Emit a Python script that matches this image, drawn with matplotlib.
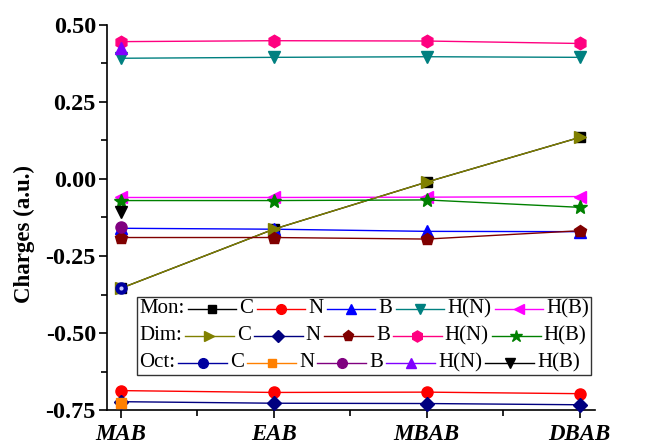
import matplotlib
matplotlib.use("Agg")
import matplotlib.pyplot as plt
from matplotlib.lines import Line2D
from matplotlib.offsetbox import TextArea, DrawingArea, HPacker, VPacker, AnchoredOffsetbox

plt.rcParams["font.family"] = "Liberation Serif"

# ---- data (charges in a.u.) ----
molecules = ["MAB", "EAB", "MBAB", "DBAB"]
atoms = ["C", "N", "B", "H(N)", "H(B)"]

mon_C = [-0.355, -0.163, -0.010, 0.135]
mon_N = [-0.687, -0.693, -0.692, -0.697]
mon_B = [-0.160, -0.163, -0.170, -0.171]
mon_HN = [0.392, 0.395, 0.397, 0.395]
mon_HB = [-0.060, -0.060, -0.059, -0.057]

dim_C = [-0.355, -0.163, -0.010, 0.135]
dim_N = [-0.723, -0.728, -0.729, -0.733]
dim_B = [-0.190, -0.190, -0.195, -0.168]
dim_HN = [0.446, 0.449, 0.448, 0.440]
dim_HB = [-0.070, -0.070, -0.068, -0.092]

# octamer only for MAB
oct_C = [-0.355]
oct_N = [-0.728]
oct_B = [-0.157]
oct_HN = [0.424]
oct_HB = [-0.108]

series = [
    ("Mon:", [mon_C, mon_N, mon_B, mon_HN, mon_HB],
     ["black", "red", "blue", "#008080", "#FF00FF"],
     ["s", "o", "^", "v", "<"]),
    ("Dim:", [dim_C, dim_N, dim_B, dim_HN, dim_HB],
     ["#808000", "#000080", "#800000", "#FF0080", "#008000"],
     [">", "D", "p", "h", "*"]),
    ("Oct:", [oct_C, oct_N, oct_B, oct_HN, oct_HB],
     ["#0000A0", "#FF8000", "#800080", "#8000FF", "black"],
     ["o", "s", "o", "^", "v"]),
]
msizes = {"s": 7, "o": 8, "^": 8, "v": 8, "<": 8, ">": 8, "D": 7, "p": 9, "h": 9, "*": 10}

fig = plt.figure(figsize=(6.46, 4.44), dpi=100)
ax = fig.add_axes([107 / 646, 34 / 444, 488 / 646, 385 / 444])

x = list(range(len(molecules)))
for name, vals, cols, mks in series:
    for v, c, m in zip(vals, cols, mks):
        ax.plot(x[:len(v)], v, color=c, lw=1.0, marker=m, ms=msizes[m],
                mec=c, mfc=c, clip_on=False, zorder=3)
        if name == "Oct:" and m == "o" and c == "#0000A0":
            # sphere highlight
            ax.plot(x[:len(v)], v, ls="none", marker="o", ms=3, mfc="#c8c8ff",
                    mec="none", zorder=4, clip_on=False)

ax.set_xlim(-0.09, 3.1)
ax.set_ylim(-0.75, 0.50)
ax.set_xticks(x)
ax.set_xticklabels(molecules, fontweight="bold", fontstyle="italic", fontsize=16.5)
ax.set_xticks([0.5, 1.5, 2.5], minor=True)
ax.set_yticks([0.50, 0.25, 0.00, -0.25, -0.50, -0.75])
ax.set_yticklabels(["0.50", "0.25", "0.00", "-0.25", "-0.50", "-0.75"],
                   fontweight="bold", fontsize=17.5)
ax.set_yticks([0.375, 0.125, -0.125, -0.375, -0.625], minor=True)
ax.tick_params(which="major", length=6, width=1.2, direction="out")
ax.tick_params(which="minor", length=4, width=1.2, direction="out")
ax.tick_params(axis="x", pad=4)
ax.tick_params(axis="y", pad=2)
for s in ["top", "right"]:
    ax.spines[s].set_visible(False)
for s in ["left", "bottom"]:
    ax.spines[s].set_linewidth(1.2)
ax.set_ylabel("Charges (a.u.)", fontweight="bold", fontsize=16.5)
ax.yaxis.set_label_coords(-0.148, 0.457)


# ---- custom legend: "Mon: —■— C —●— N ..." ----
def handle(color, marker):
    da = DrawingArea(35, 14, 0, 0)
    da.add_artist(Line2D([0, 35], [7, 7], color=color, lw=1.0))
    da.add_artist(Line2D([17.5], [7], color=color, marker=marker,
                         ms=msizes[marker] - 1, mfc=color, mec=color))
    return da


rows = []
for name, vals, cols, mks in series:
    items = [TextArea(name, textprops=dict(fontsize=15))]
    for a, c, m in zip(atoms, cols, mks):
        items.append(handle(c, m))
        items.append(TextArea(a, textprops=dict(fontsize=15)))
    rows.append(HPacker(children=items, align="center", pad=0, sep=2.3))
box = VPacker(children=rows, align="left", pad=0, sep=5.5)
anchored = AnchoredOffsetbox(loc="upper left", child=box, pad=0.15, borderpad=0,
                             frameon=True,
                             bbox_to_anchor=(137 / 646, 1 - 297 / 444),
                             bbox_transform=fig.transFigure)
anchored.patch.set_edgecolor("#333333")
anchored.patch.set_linewidth(1.0)
anchored.patch.set_boxstyle("square", pad=0)
ax.add_artist(anchored)

fig.savefig("out.png", dpi=100)
